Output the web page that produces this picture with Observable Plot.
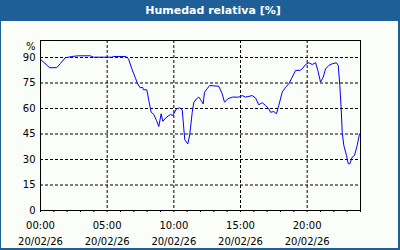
<!DOCTYPE html>
<html>
<head>
<meta charset="utf-8">
<script src="https://cdn.jsdelivr.net/npm/d3@7"></script>
<script src="https://cdn.jsdelivr.net/npm/@observablehq/plot@0.6"></script>
<style>
  html, body { margin: 0; padding: 0; background: #fafdf8; }
  #wrap { position: relative; width: 400px; height: 250px; overflow: hidden; background: #fafdf8; }
  #wrap svg { position: absolute; left: 0; top: 0; }
  #header { position: absolute; left: 0; top: 0; width: 400px; height: 21px; background: #1e5f98;
    color: #fff; font: bold 11px "DejaVu Sans", sans-serif; line-height: 21px; text-align: center; text-indent: 26px; }
  #border { position: absolute; left: 0; top: 0; width: 397px; height: 248px;
    border-left: 1px solid #1e5f98; border-right: 2px solid #1e5f98; border-bottom: 2px solid #1e5f98; pointer-events: none; }
</style>
</head>
<body>
<div id="wrap">
  <div id="header">Humedad relativa [%]</div>
  <div id="border"></div>
</div>
<script>
// Time of day in hours (20/02/26)
const hours = [0.05, 0.68, 1.22, 1.5, 1.85, 2.35, 2.85, 3.73, 3.98, 5.35, 5.48, 6.4, 6.6, 6.85, 7.1, 7.28, 7.48, 7.65, 7.73, 7.97,
  8.05, 8.12, 8.3, 8.5, 8.7, 8.87, 9.05, 9.17, 9.45, 9.75, 9.92, 10.2, 10.45, 10.63, 10.75, 10.82, 11.05, 11.2, 11.38, 11.5,
  11.7, 11.87, 12.05, 12.2, 12.3, 12.5, 12.68, 13.37, 13.63, 13.8, 14.05, 14.38, 14.87, 15.13, 15.38, 15.88, 16.13, 16.37, 16.63, 16.88,
  17.12, 17.25, 17.5, 17.7, 17.87, 18.13, 18.38, 18.62, 18.88, 19.13, 19.45, 19.63, 19.88, 20.12, 20.38, 20.63, 20.8, 21.0, 21.2, 21.38,
  21.62, 21.88, 22.2, 22.33, 22.45, 22.55, 22.63, 22.75, 22.95, 23.08, 23.2, 23.38, 23.55, 23.75, 23.92];
// Relative humidity (%)
const humidity = [88.6, 84, 84, 86.5, 89.8, 90.6, 91, 91, 90.2, 90.2, 90.6, 90.6, 89.2, 83.3, 78.4, 74.5, 72.2, 72.5, 71, 71,
  68, 64.7, 57.8, 56.5, 52.9, 49.4, 56.9, 52.5, 54.9, 56.5, 55.9, 59.8, 60.4, 59.2, 48, 41.6, 39.2, 45, 57.8, 63.7,
  65.7, 66.7, 64.7, 62.7, 69.6, 71.6, 73.5, 73.1, 68.6, 63.7, 65.7, 66.7, 66.7, 67.6, 66.7, 67.6, 66.2, 62.2, 63.4, 61.8,
  59.8, 57.8, 58.2, 56.9, 61.8, 69.6, 72.5, 74.5, 78.4, 82.4, 82.4, 83.3, 85.9, 86.9, 85.9, 86.9, 82.4, 75.5, 78.4, 83.3,
  85.3, 86.3, 86.9, 85.3, 73.5, 59.8, 46, 38.2, 32.4, 27.5, 27.5, 31.4, 32.4, 38.2, 45];
const yTicks = [0, 15, 30, 45, 60, 75, 90];
const xLabelHours = [0, 5, 10, 15, 20];
const xTimeLabels = ["00:00", "05:00", "10:00", "15:00", "20:00"];
const xDateLabels = ["20/02/26", "20/02/26", "20/02/26", "20/02/26", "20/02/26"];
const yUnit = "%";

const data = hours.map((h, i) => ({h, v: humidity[i]}));
const labels = xLabelHours.map((h, i) => ({h, time: xTimeLabels[i], date: xDateLabels[i]}));

const chart = Plot.plot({
  width: 400, height: 250,
  marginLeft: 40, marginRight: 40, marginTop: 40, marginBottom: 40,
  style: {fontFamily: "DejaVu Sans, sans-serif", fontSize: "10px", color: "#000", background: "transparent", overflow: "visible"},
  x: {domain: [0, 24], axis: null},
  y: {domain: [0, 100], axis: null},
  marks: [
    Plot.gridY(yTicks.filter(v => v > 0), {stroke: "#000", strokeOpacity: 1, strokeDasharray: "3,2"}),
    Plot.gridX(xLabelHours.filter(v => v > 0), {stroke: "#000", strokeOpacity: 1, strokeDasharray: "3,2"}),
    Plot.axisX(d3.range(0, 25), {tickSize: 2, tickFormat: () => "", label: null, stroke: "#000"}),
    Plot.axisY(yTicks, {tickSize: 0, tickPadding: 5, label: null, fill: "#000", fontSize: 10}),
    Plot.text([yUnit], {frameAnchor: "top-left", text: d => d, textAnchor: "end", dx: -5, dy: 2, fill: "#000", fontSize: 10}),
    Plot.text(labels, {x: "h", y: () => 0, text: "time", textAnchor: "middle", dy: 15, fill: "#000", fontSize: 10}),
    Plot.text(labels, {x: "h", y: () => 0, text: "date", textAnchor: "middle", dy: 31, fill: "#000", fontSize: 10}),
    Plot.line(data, {x: "h", y: "v", stroke: "#0000ff", strokeWidth: 1}),
    Plot.frame({stroke: "#000"})
  ]
});
document.getElementById("wrap").prepend(chart);
</script>
</body>
</html>
